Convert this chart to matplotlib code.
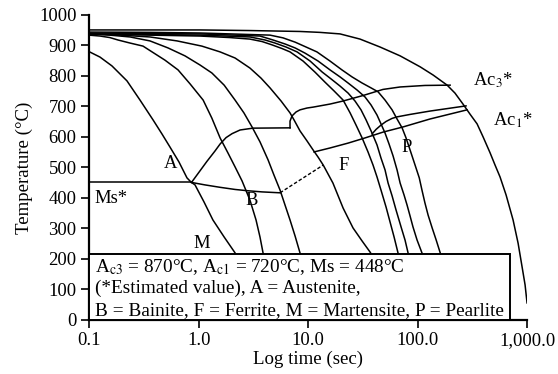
import numpy as np
import matplotlib
matplotlib.use("Agg")
import matplotlib.pyplot as plt
from matplotlib.patches import Rectangle

plt.rcParams['font.family'] = ['Liberation Serif', 'DejaVu Serif']
plt.rcParams['mathtext.fontset'] = 'stix'

# cooling curves: time (sec) and temperature (deg C)
c1_t = [0.1, 0.126, 0.162, 0.222, 0.292, 0.384, 0.463, 0.548, 0.662, 0.783, 0.853, 0.927,
        1.12, 1.35, 1.71, 2.15, 2.65]
c1_T = [880, 862, 833, 784, 721, 656, 610, 567, 518, 466, 452, 443, 387, 328, 272, 220, 148]
c2_t = [0.1, 0.126, 0.155, 0.184, 0.237, 0.311, 0.376, 0.493, 0.649, 0.836, 1.10, 1.32,
        1.57, 1.85, 2.15, 2.49, 2.94, 3.34, 3.63, 3.87, 4.30]
c2_T = [934, 931, 926, 918, 908, 898, 879, 852, 820, 774, 721, 662, 597, 548, 502, 456,
        393, 328, 272, 220, 148]
c3_t = [0.1, 0.155, 0.237, 0.360, 0.526, 0.751, 1.03, 1.32, 1.71, 2.15, 2.59, 3.07, 3.63,
        4.30, 4.87, 5.53, 6.14, 6.82, 7.59, 8.41, 9.55]
c3_T = [938, 934, 928, 915, 892, 866, 836, 810, 770, 721, 679, 633, 584, 525, 475, 426,
        377, 328, 275, 220, 148]
c4_t = [0.1, 0.192, 0.360, 0.636, 1.07, 1.57, 2.15, 2.94, 3.71, 4.48, 5.65, 6.82, 7.42,
        8.41, 9.75, 11.1, 12.3, 13.7, 16.8, 20.8, 25.6, 31.0, 36.6, 45.2]
c4_T = [938, 934, 928, 915, 898, 879, 859, 826, 793, 761, 718, 679, 656, 620, 587, 557,
        534, 508, 449, 367, 302, 259, 223, 170]
c5_t = [0.1, 0.360, 1.03, 1.93, 2.94, 3.79, 4.68, 5.77, 6.82, 8.97, 11.5, 14.2, 17.2, 20.8,
        24.1, 27.3, 31.0, 35.1, 39.0, 42.4, 46.1, 51.3, 55.8, 60.7, 65.9, 71.8]
c5_T = [938, 934, 931, 926, 921, 913, 902, 890, 879, 849, 813, 780, 751, 721, 679, 639,
        597, 551, 508, 469, 426, 370, 321, 272, 220, 157]
c6_t = [0.1, 0.360, 1.03, 2.94, 4.04, 4.98, 6.27, 7.91, 10.4, 13.4, 16.2, 19.5, 23.1, 26.7,
        30.3, 33.7, 38.2, 42.4, 46.1, 50.2, 53.5, 58.2, 63.2, 70.3, 76.4, 81.4, 88.5]
c6_T = [938, 936, 934, 928, 918, 908, 895, 879, 849, 813, 790, 767, 744, 718, 689, 656,
        613, 574, 531, 492, 449, 407, 361, 305, 262, 220, 157]
c7_t = [0.1, 0.360, 1.03, 3.63, 4.78, 6.14, 7.59, 9.35, 12.3, 15.8, 19.5, 23.1, 27.9, 33.0,
        37.4, 42.4, 46.1, 50.2, 54.6, 59.4, 64.6, 68.9, 74.8, 79.7, 84.9, 90.3, 98.4, 109, 119]
c7_T = [941, 939, 938, 931, 918, 905, 892, 875, 849, 820, 797, 777, 754, 731, 705, 672,
        643, 613, 577, 538, 492, 449, 410, 377, 341, 305, 262, 220, 157]
c8_t = [0.1, 0.360, 1.03, 4.48, 5.89, 7.59, 9.55, 12.0, 15.8, 20.3, 25.1, 31.0, 37.4, 43.4,
        50.2, 58.2, 64.6, 71.8, 78.0, 83.2, 88.5, 94.3, 103, 109, 116, 124, 135, 147, 160, 173]
c8_T = [944, 943, 941, 934, 925, 911, 895, 879, 849, 820, 797, 777, 761, 748, 721, 689,
        659, 630, 597, 567, 538, 508, 466, 426, 384, 344, 302, 262, 220, 157]
c9_t = [0.1, 1.03, 2.94, 8.41, 12.8, 19.5, 29.7, 45.2, 68.9, 105, 138, 185, 218, 258, 299,
        347, 394, 456, 506, 562, 638, 739, 821, 893, 951, 991]
c9_T = [951, 951, 949, 946, 943, 938, 921, 895, 866, 830, 803, 770, 744, 708, 675, 643,
        600, 548, 508, 469, 410, 328, 252, 174, 115, 56]

# transformation lines
ms_t = [0.1, 0.861]
ms_T = [451, 451]
bs_t = [0.861, 1.01, 1.19, 1.41, 1.57, 1.78, 2.02, 2.39, 3.13, 6.82]
bs_T = [451, 485, 520, 554, 577, 598, 611, 623, 629, 630]
bf_t = [0.861, 1.14, 1.57, 2.15, 2.76, 3.79, 5.53]
bf_T = [451, 443, 435, 428, 424, 420, 417]
dash_t = [5.53, 13.7]
dash_T = [417, 508]
fs_t = [6.82, 6.82, 7.11, 7.74, 8.41, 9.75, 11.1, 15.8, 20.8, 31.6, 48.1, 68.9, 116, 197]
fs_T = [630, 652, 669, 682, 689, 695, 698, 708, 718, 736, 756, 764, 769, 770]
ps_t = [11.3, 15.8, 23.1, 33.0, 48.1, 73.3, 129, 281]
ps_T = [551, 564, 580, 597, 616, 633, 659, 689]
pu_t = [38.2, 41.6, 46.1, 51.3, 58.2, 64.6, 84.9, 129, 275]
pu_T = [610, 625, 639, 651, 661, 666, 674, 685, 702]

xticks = [0.1, 1, 10, 100, 1000]
xlabels = ['0.1', '1.0', '10.0', '100.0', '1,000.0']
yticks = list(range(0, 1001, 100))

fig = plt.figure(figsize=(5.58, 3.74), dpi=100)
ax = fig.add_axes([0.1595, 0.1444, 0.7858, 0.8155])
lw = 1.1
for t, T in [(c1_t, c1_T), (c2_t, c2_T), (c3_t, c3_T), (c4_t, c4_T), (c5_t, c5_T),
             (c6_t, c6_T), (c7_t, c7_T), (c8_t, c8_T), (c9_t, c9_T),
             (ms_t, ms_T), (bs_t, bs_T), (bf_t, bf_T), (fs_t, fs_T), (ps_t, ps_T), (pu_t, pu_T)]:
    ax.plot(t, T, color='black', lw=lw, zorder=2, solid_joinstyle='round')
ax.plot(dash_t, dash_T, color='black', lw=1.0, ls=(0, (2.5, 1.5)), zorder=2)

ax.set_xscale('log')
ax.set_xlim(0.1, 1000)
ax.set_ylim(0, 1000)
ax.set_xticks(xticks)
ax.set_xticklabels(xlabels)
ax.set_yticks(yticks)
ax.minorticks_off()
ax.spines['top'].set_visible(False)
ax.spines['right'].set_visible(False)
for s in ['left', 'bottom']:
    ax.spines[s].set_linewidth(1.6)
ax.tick_params(direction='out', length=6, width=1.2, labelsize=13.4, pad=3)
ax.set_xlabel('Log time (sec)', fontsize=13.6, labelpad=1)
ax.set_ylabel('Temperature (°C)', fontsize=13.6, labelpad=4)

fs = 13.4
ax.text(0.56, 512, 'A', fontsize=fs, ha='center', va='center')
ax.text(3.05, 391, 'B', fontsize=fs, ha='center', va='center')
ax.text(20.9, 508, 'F', fontsize=fs, ha='center', va='center')
ax.text(79.7, 567, 'P', fontsize=fs, ha='center', va='center')
ax.text(1.07, 251, 'M', fontsize=fs, ha='center', va='center')
ax.text(0.113, 399, 'Ms*', fontsize=fs, ha='left', va='center')
ax.text(319, 787, r'Ac$_3$*', fontsize=fs, ha='left', va='center')
ax.text(485, 656, r'Ac$_1$*', fontsize=fs, ha='left', va='center')

bs = 13.9
ax.add_patch(Rectangle((0.1, 0), 687 - 0.1, 216, facecolor='white', edgecolor='black',
                       lw=1.4, zorder=3, clip_on=False))
ax.text(0.1135, 158, r'A$_{\mathrm{c3}}$ = 870°C, A$_{\mathrm{c1}}$ = 720°C, Ms = 448°C',
        fontsize=bs, va='baseline', zorder=4)
ax.text(0.1135, 87.5, '(*Estimated value), A = Austenite,', fontsize=bs, va='baseline', zorder=4)
ax.text(0.1135, 16, 'B = Bainite, F = Ferrite, M = Martensite, P = Pearlite',
        fontsize=bs, va='baseline', zorder=4)

fig.savefig('out.png', dpi=100)
